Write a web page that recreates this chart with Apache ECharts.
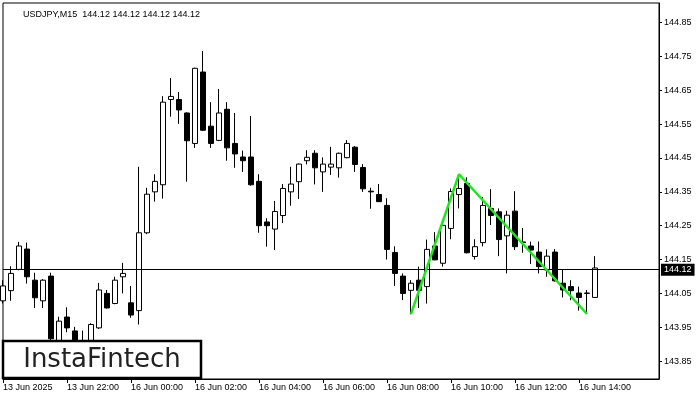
<!DOCTYPE html>
<html><head><meta charset="utf-8">
<script src="https://cdn.jsdelivr.net/npm/echarts@6/dist/echarts.min.js"></script>
<style>html,body{margin:0;padding:0;background:#fff}#c{width:700px;height:400px}</style>
</head><body><div id="c"></div>
<script>
const titleText = "USDJPY,M15  144.12 144.12 144.12 144.12";
const openP  = [144.028,144.058,144.121,144.181,144.089,144.028,144.101,143.895,143.980,143.939,
                143.895,143.900,143.948,144.050,144.020,144.099,144.022,143.999,144.229,144.350,
                144.371,144.623,144.623,144.583,144.493,144.704,144.544,144.502,144.594,144.493,
                144.453,144.453,144.381,144.261,144.240,144.280,144.350,144.380,144.442,144.464,
                144.409,144.423,144.421,144.451,144.482,144.422,144.352,144.342,144.310,144.171,
                144.101,144.059,144.089,144.070,144.190,144.139,144.242,144.342,144.375,144.159,
                144.200,144.301,144.291,144.220,144.293,144.202,144.190,144.172,144.119,144.172,
                144.080,144.070,144.051,144.051,144.038];
const closeP = [144.072,144.109,144.190,144.099,144.037,144.089,143.916,143.968,143.948,143.895,
                143.880,143.958,144.060,144.007,144.089,144.109,143.986,144.229,144.343,144.381,
                144.615,144.632,144.592,144.501,144.715,144.532,144.493,144.583,144.480,144.462,
                144.442,144.371,144.250,144.250,144.292,144.360,144.373,144.432,144.452,144.421,
                144.432,144.432,144.464,144.493,144.431,144.359,144.350,144.321,144.180,144.109,
                144.050,144.080,144.059,144.180,144.149,144.251,144.351,144.360,144.170,144.188,
                144.310,144.280,144.209,144.281,144.188,144.200,144.178,144.129,144.160,144.087,
                144.060,144.058,144.038,144.050,144.125];
const highP  = [144.089,144.130,144.202,144.200,144.111,144.092,144.111,143.981,144.009,143.951,
                143.940,143.962,144.081,144.060,144.099,144.140,144.072,144.424,144.362,144.402,
                144.633,144.686,144.645,144.585,144.717,144.766,144.615,144.654,144.615,144.583,
                144.472,144.574,144.402,144.272,144.323,144.373,144.424,144.434,144.473,144.473,
                144.452,144.483,144.466,144.503,144.485,144.432,144.362,144.373,144.331,144.189,
                144.109,144.089,144.129,144.209,144.231,144.253,144.360,144.402,144.393,144.210,
                144.335,144.358,144.301,144.294,144.352,144.243,144.203,144.203,144.180,144.181,
                144.121,144.089,144.070,144.060,144.160];
const lowP   = [144.020,144.028,144.118,144.079,144.007,144.007,143.900,143.880,143.935,143.880,
                143.870,143.890,143.945,144.005,144.018,144.050,143.978,143.958,144.225,144.321,
                144.330,144.572,144.551,144.380,144.480,144.530,144.480,144.500,144.442,144.421,
                144.409,144.368,144.229,144.188,144.178,144.258,144.309,144.329,144.431,144.372,
                144.350,144.400,144.392,144.449,144.409,144.350,144.300,144.320,144.150,144.072,
                144.030,143.988,144.007,144.020,144.148,144.129,144.210,144.301,144.168,144.150,
                144.189,144.252,144.160,144.109,144.178,144.170,144.137,144.109,144.099,144.085,
                144.038,144.030,143.999,143.989,144.037];
const tickIndex  = [0, 8, 16, 24, 32, 40, 48, 56, 64, 72];
const tickLabels = ["13 Jun 2025","13 Jun 22:00","16 Jun 00:00","16 Jun 02:00","16 Jun 04:00",
                    "16 Jun 06:00","16 Jun 08:00","16 Jun 10:00","16 Jun 12:00","16 Jun 14:00"];
const yTicks = [143.85,143.95,144.05,144.15,144.25,144.35,144.45,144.55,144.65,144.75,144.85];
const patternX = [51, 57, 73];
const patternY = [143.989, 144.402, 143.989];
const lastPrice = 144.12;
const emptySlots = 8;

const FONT = "Liberation Sans";
const categories = [];
for (let i = 0; i < openP.length + emptySlots; i++) categories.push(String(i));
const candles = openP.map((o, i) => [o, closeP[i], lowP[i], highP[i]]);
const patternData = patternX.map((x, i) => [x, patternY[i]]);
const showTick = (idx) => tickIndex.indexOf(idx) >= 0;

const chart = echarts.init(document.getElementById('c'), null, {renderer: 'canvas'});
chart.setOption({
  animation: false,
  backgroundColor: '#fff',
  title: {
    text: titleText, left: 18, top: 5,
    textStyle: {fontFamily: FONT, fontSize: 9, fontWeight: 'normal', color: '#000'}
  },
  grid: {left: 3, top: 3, right: 41, bottom: 21, show: true, borderColor: '#000', borderWidth: 1, backgroundColor: 'transparent'},
  xAxis: {
    type: 'category', data: categories, boundaryGap: false,
    axisLine: {show: true, lineStyle: {color: '#000', width: 1}},
    axisTick: {show: true, interval: (idx) => showTick(idx), length: 4, lineStyle: {color: '#000'}},
    axisLabel: {
      interval: (idx) => showTick(idx),
      formatter: (v, idx) => { const k = tickIndex.indexOf(Number(v)); return k >= 0 ? tickLabels[k] : ''; },
      align: 'left', margin: 4, fontFamily: FONT, fontSize: 9, color: '#000'
    },
    splitLine: {show: false}
  },
  yAxis: {
    type: 'value', position: 'right', min: 143.797, max: 144.908, scale: true,
    axisLine: {show: true, lineStyle: {color: '#000', width: 1}},
    axisTick: {show: true, length: 3, customValues: yTicks, lineStyle: {color: '#000'}},
    axisLabel: {customValues: yTicks, formatter: (v) => v.toFixed(2), margin: 5, fontFamily: FONT, fontSize: 9, color: '#000'},
    splitLine: {show: false}
  },
  series: [
    {
      type: 'candlestick', data: candles, barWidth: 5, clip: true,
      itemStyle: {color: '#fff', color0: '#000', borderColor: '#000', borderColor0: '#000', borderWidth: 1},
      markLine: {
        silent: true, symbol: ['none', 'none'], animation: false,
        lineStyle: {color: '#000', width: 1, type: 'solid'},
        label: {show: true, position: 'end', formatter: lastPrice.toFixed(2), distance: 2,
                backgroundColor: '#000', color: '#fff', padding: [2, 3, 1, 3], fontFamily: FONT, fontSize: 9},
        data: [{yAxis: lastPrice}]
      }
    },
    {
      type: 'line', data: patternData, symbol: 'none', z: 5,
      lineStyle: {color: '#1ee61e', width: 2.5}
    }
  ],
  graphic: [
    {type: 'rect', z: 100, shape: {x: 3, y: 341, width: 198, height: 37},
     style: {fill: '#fff', stroke: '#000', lineWidth: 2.5}},
    {type: 'text', z: 101, x: 102, y: 360,
     style: {text: 'InstaFintech', font: 'normal 26px "DejaVu Sans"', fill: '#222', align: 'center', verticalAlign: 'middle', textAlign: 'center', textVerticalAlign: 'middle'}}
  ]
});
</script></body></html>
